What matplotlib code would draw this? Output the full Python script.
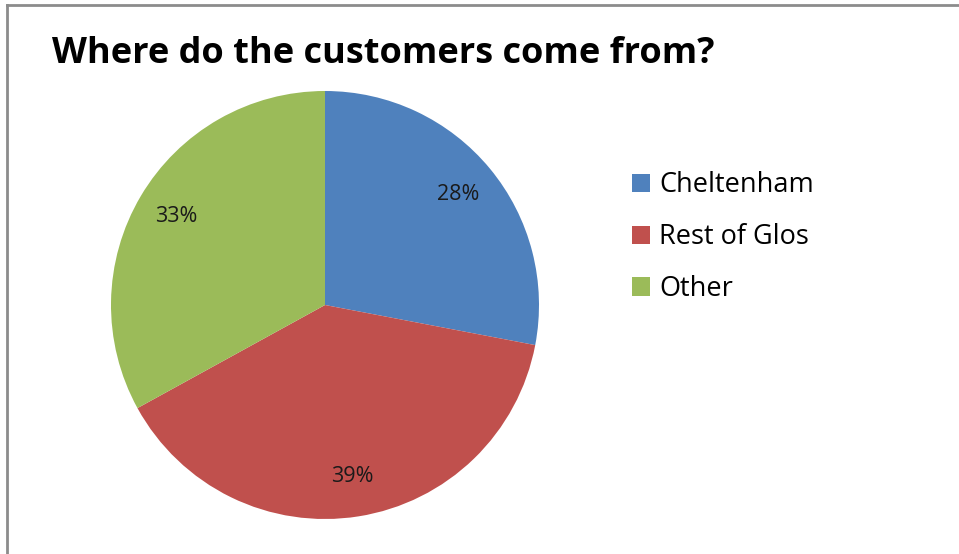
import matplotlib.pyplot as plt
from matplotlib.patches import Patch
from matplotlib.lines import Line2D

regions = ["Cheltenham", "Rest of Glos", "Other"]
shares = [28, 39, 33]
colors = ["#4F81BD", "#C0504D", "#9BBB59"]

W, H = 959, 554
fig = plt.figure(figsize=(W / 100, H / 100), dpi=100)
plt.rcParams["font.family"] = ["Open Sans", "DejaVu Sans"]

# chart frame (only top and left edges visible)
fig.add_artist(Line2D([7 / W, 7 / W], [0, 1 - 5 / H], color="#8c8c8c", lw=2))
fig.add_artist(Line2D([7 / W, 1], [1 - 5 / H, 1 - 5 / H], color="#8c8c8c", lw=2))

ax = fig.add_axes([111 / W, 35 / H, 428 / W, 428 / H])
wedges, texts, autotexts = ax.pie(
    shares,
    colors=colors,
    startangle=90,
    counterclock=False,
    autopct="%d%%",
    pctdistance=0.81,
    radius=1,
    textprops={"fontsize": 15.5, "color": "#1a1a1a"},
)
ax.set_xlim(-1, 1)
ax.set_ylim(-1, 1)
ax.set_aspect("equal")

fig.text(52 / W, 1 - 63 / H, "Where do the customers come from?",
         fontsize=26, fontweight="bold", ha="left", va="baseline")

handles = [Patch(facecolor=c, edgecolor="none") for c in colors]
fig.legend(handles, regions, loc="upper left", bbox_to_anchor=(608 / W, 1 - 147 / H),
           frameon=False, fontsize=19.5, handlelength=0.65, handleheight=0.65,
           handletextpad=0.35, labelspacing=0.88)

fig.savefig("out.png", dpi=100)
